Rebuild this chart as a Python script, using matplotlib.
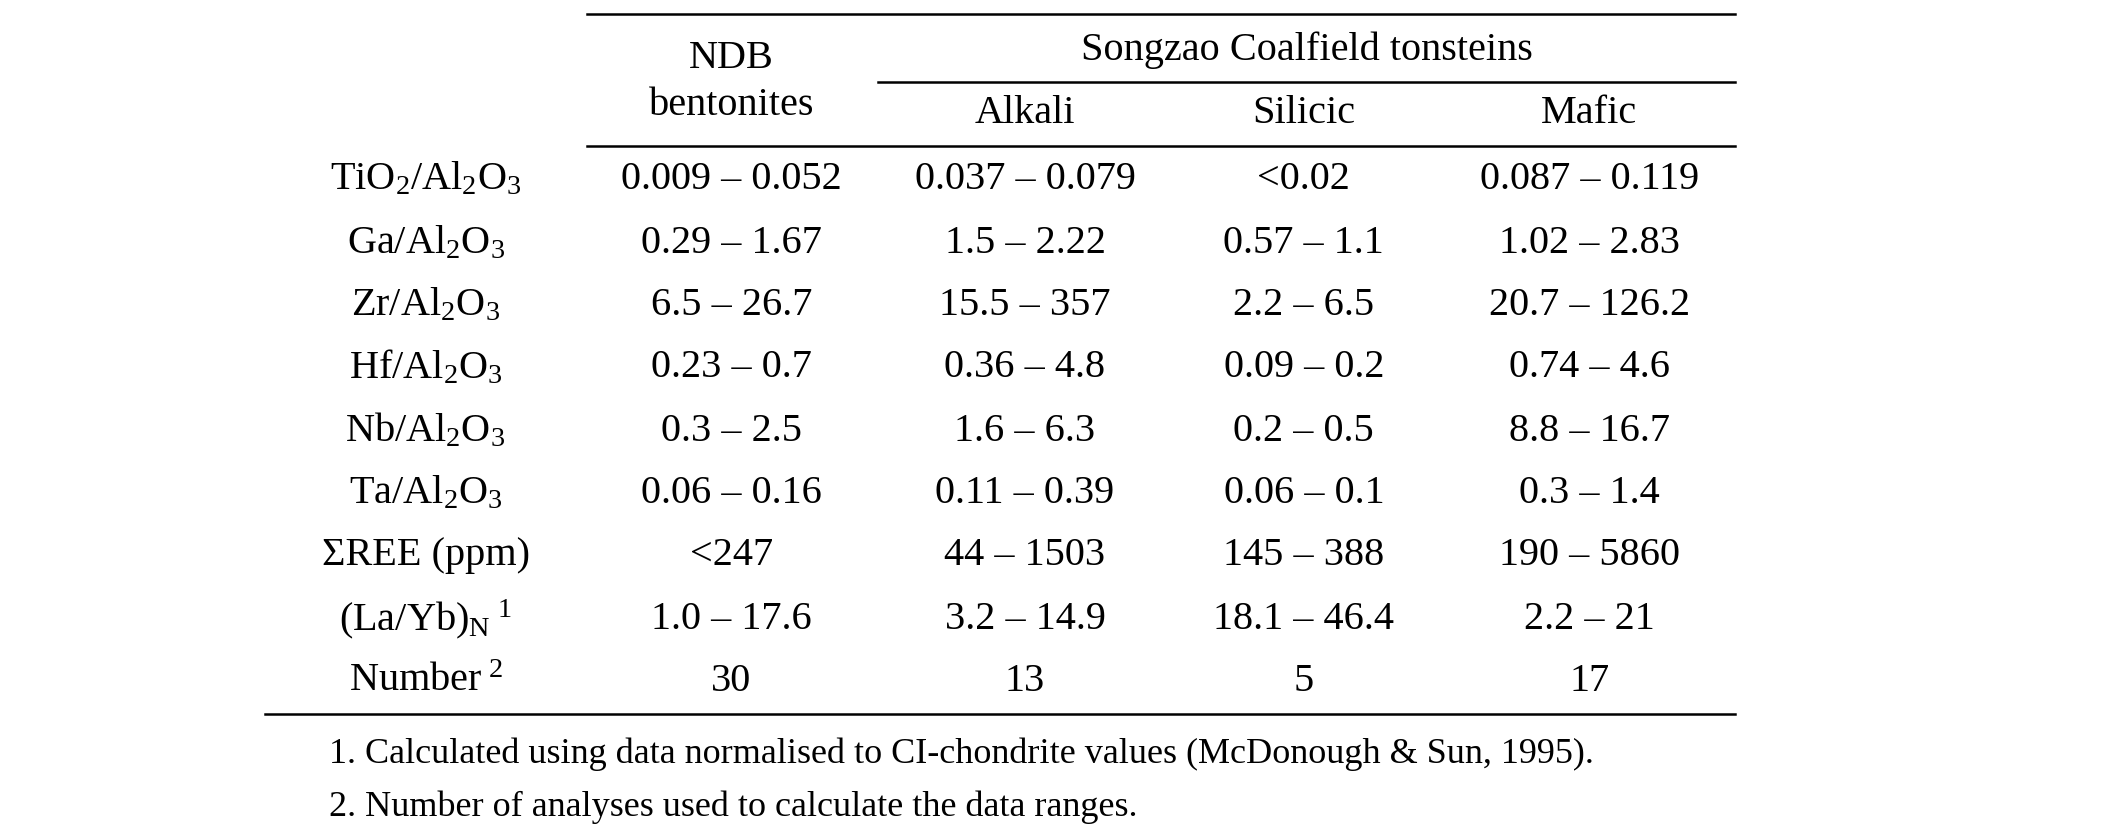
import matplotlib
matplotlib.use("Agg")
import matplotlib.pyplot as plt

plt.rcParams['font.family'] = ['Liberation Serif', 'DejaVu Serif']
plt.rcParams['mathtext.fontset'] = 'custom'
plt.rcParams['mathtext.rm'] = 'Liberation Serif'
plt.rcParams['mathtext.it'] = 'Liberation Serif:italic'

row_labels = [r'TiO$_2$/Al$_2$O$_3$', r'Ga/Al$_2$O$_3$', r'Zr/Al$_2$O$_3$', r'Hf/Al$_2$O$_3$',
              r'Nb/Al$_2$O$_3$', r'Ta/Al$_2$O$_3$', 'ΣREE (ppm)', r'(La/Yb)$_\mathrm{N}$$^{\ 1}$',
              r'Number$^{\ 2}$']
ndb = ['0.009 – 0.052', '0.29 – 1.67', '6.5 – 26.7', '0.23 – 0.7', '0.3 – 2.5', '0.06 – 0.16', '<247', '1.0 – 17.6', '30']
alkali = ['0.037 – 0.079', '1.5 – 2.22', '15.5 – 357', '0.36 – 4.8', '1.6 – 6.3', '0.11 – 0.39', '44 – 1503', '3.2 – 14.9', '13']
silicic = ['<0.02', '0.57 – 1.1', '2.2 – 6.5', '0.09 – 0.2', '0.2 – 0.5', '0.06 – 0.1', '145 – 388', '18.1 – 46.4', '5']
mafic = ['0.087 – 0.119', '1.02 – 2.83', '20.7 – 126.2', '0.74 – 4.6', '8.8 – 16.7', '0.3 – 1.4', '190 – 5860', '2.2 – 21', '17']
footnotes = ['1. Calculated using data normalised to CI-chondrite values (McDonough & Sun, 1995).',
             '2. Number of analyses used to calculate the data ranges.']

W, H = 1565.0, 617.0
fig = plt.figure(figsize=(21.08, 8.34), dpi=100)
ax = fig.add_axes([0, 0, 1, 1])
ax.set_xlim(0, W); ax.set_ylim(H, 0); ax.axis('off')
fs = 29

def line(x0, x1, y):
    ax.plot([x0, x1], [y, y], color='black', lw=1.8)

line(436, 1288, 10)
line(652, 1288, 61)
line(436, 1288, 108)
line(197, 1288, 528)

ax.text(543, 43, 'NDB', ha='center', va='center', fontsize=fs)
ax.text(543, 78, 'bentonites', ha='center', va='center', fontsize=fs)
ax.text(970, 37, 'Songzao Coalfield tonsteins', ha='center', va='center', fontsize=fs)
for x, t in [(761, 'Alkali'), (968, 'Silicic'), (1180, 'Mafic')]:
    ax.text(x, 84, t, ha='center', va='center', fontsize=fs)

ys = [133, 180, 226, 272, 319, 365, 411, 458, 504]
for i, y in enumerate(ys):
    ax.text(316, y, row_labels[i], ha='center', va='center', fontsize=fs)
    for x, col in [(543, ndb), (761, alkali), (968, silicic), (1180, mafic)]:
        ax.text(x, y, col[i], ha='center', va='center', fontsize=fs)

ax.text(244, 558, footnotes[0], ha='left', va='center', fontsize=26)
ax.text(244, 597, footnotes[1], ha='left', va='center', fontsize=26)

fig.savefig('out.png', dpi=100)
